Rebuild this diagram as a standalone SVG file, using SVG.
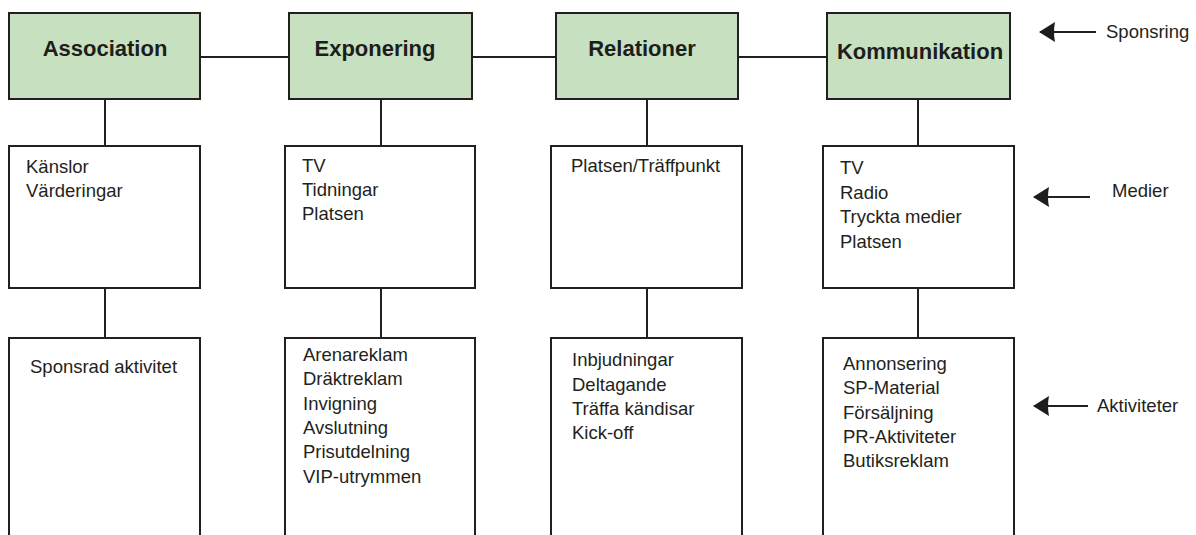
<svg xmlns="http://www.w3.org/2000/svg" width="1196" height="535" viewBox="0 0 1196 535">
<style>
.head{fill:#c6e0c0;stroke:#231f20;stroke-width:2}
.box{fill:#fff;stroke:#231f20;stroke-width:2}
.title{font-family:"Liberation Sans",Arial,sans-serif;font-weight:bold;font-size:22px;fill:#1d1d1b;text-anchor:middle}
.t{font-family:"Liberation Sans",Arial,sans-serif;font-size:18.5px;fill:#231f20}
.ln{stroke:#231f20;stroke-width:2;fill:none}
</style>
<defs>
<marker id="ah" viewBox="0 0 16 20" refX="15" refY="10" markerWidth="16" markerHeight="20" markerUnits="userSpaceOnUse" orient="auto">
<path d="M0,0 Q2,10 0,20 L16,10 Z" fill="#1d1d1b"/>
</marker>
</defs>
<rect width="1196" height="535" fill="#fff"/>
<g id="connectors">
<line class="ln" x1="200" y1="57" x2="289" y2="57"/>
<line class="ln" x1="472" y1="57" x2="556" y2="57"/>
<line class="ln" x1="738" y1="57" x2="827" y2="57"/>
<line class="ln" x1="105" y1="99" x2="105" y2="146"/>
<line class="ln" x1="105" y1="288" x2="105" y2="338"/>
<line class="ln" x1="381" y1="99" x2="381" y2="146"/>
<line class="ln" x1="381" y1="288" x2="381" y2="338"/>
<line class="ln" x1="647" y1="99" x2="647" y2="146"/>
<line class="ln" x1="647" y1="288" x2="647" y2="338"/>
<line class="ln" x1="918" y1="99" x2="918" y2="146"/>
<line class="ln" x1="918" y1="288" x2="918" y2="338"/>
<line class="ln" x1="1096" y1="32" x2="1040" y2="32" marker-end="url(#ah)"/>
<line class="ln" x1="1090" y1="197" x2="1034" y2="197" marker-end="url(#ah)"/>
<line class="ln" x1="1088" y1="406" x2="1034" y2="406" marker-end="url(#ah)"/>
</g>
<g id="association">
<rect class="head" x="9" y="13" width="191" height="86"/>
<text class="title" x="105" y="56">Association</text>
</g>
<g id="exponering">
<rect class="head" x="289" y="13" width="183" height="86"/>
<text class="title" x="375" y="56">Exponering</text>
</g>
<g id="relationer">
<rect class="head" x="556" y="13" width="182" height="86"/>
<text class="title" x="642" y="56">Relationer</text>
</g>
<g id="kommunikation">
<rect class="head" x="827" y="13" width="183" height="86"/>
<text class="title" x="920" y="59">Kommunikation</text>
</g>
<g id="association-medier">
<rect class="box" x="9" y="146" width="191" height="142"/>
<text class="t" x="26" y="173">Känslor</text>
<text class="t" x="26" y="197">Värderingar</text>
</g>
<g id="exponering-medier">
<rect class="box" x="285" y="146" width="190" height="142"/>
<text class="t" x="302" y="172">TV</text>
<text class="t" x="302" y="196">Tidningar</text>
<text class="t" x="302" y="220">Platsen</text>
</g>
<g id="relationer-medier">
<rect class="box" x="551" y="146" width="191" height="142"/>
<text class="t" x="571" y="172">Platsen/Träffpunkt</text>
</g>
<g id="kommunikation-medier">
<rect class="box" x="823" y="146" width="191" height="142"/>
<text class="t" x="840" y="174">TV</text>
<text class="t" x="840" y="198.5">Radio</text>
<text class="t" x="840" y="223">Tryckta medier</text>
<text class="t" x="840" y="247.5">Platsen</text>
</g>
<g id="association-aktiviteter">
<rect class="box" x="9" y="338" width="191" height="210"/>
<text class="t" x="30" y="373">Sponsrad aktivitet</text>
</g>
<g id="exponering-aktiviteter">
<rect class="box" x="285" y="338" width="190" height="210"/>
<text class="t" x="303" y="361">Arenareklam</text>
<text class="t" x="303" y="385">Dräktreklam</text>
<text class="t" x="303" y="410">Invigning</text>
<text class="t" x="303" y="434">Avslutning</text>
<text class="t" x="303" y="458">Prisutdelning</text>
<text class="t" x="303" y="482.5">VIP-utrymmen</text>
</g>
<g id="relationer-aktiviteter">
<rect class="box" x="551" y="338" width="191" height="210"/>
<text class="t" x="572" y="366">Inbjudningar</text>
<text class="t" x="572" y="390.5">Deltagande</text>
<text class="t" x="572" y="415">Träffa kändisar</text>
<text class="t" x="572" y="439">Kick-off</text>
</g>
<g id="kommunikation-aktiviteter">
<rect class="box" x="823" y="338" width="191" height="210"/>
<text class="t" x="843" y="370">Annonsering</text>
<text class="t" x="843" y="394">SP-Material</text>
<text class="t" x="843" y="418.5">Försäljning</text>
<text class="t" x="843" y="442.5">PR-Aktiviteter</text>
<text class="t" x="843" y="466.5">Butiksreklam</text>
</g>
<g id="labels">
<text class="t" x="1106" y="38">Sponsring</text>
<text class="t" x="1112" y="197">Medier</text>
<text class="t" x="1097" y="412">Aktiviteter</text>
</g>
</svg>
